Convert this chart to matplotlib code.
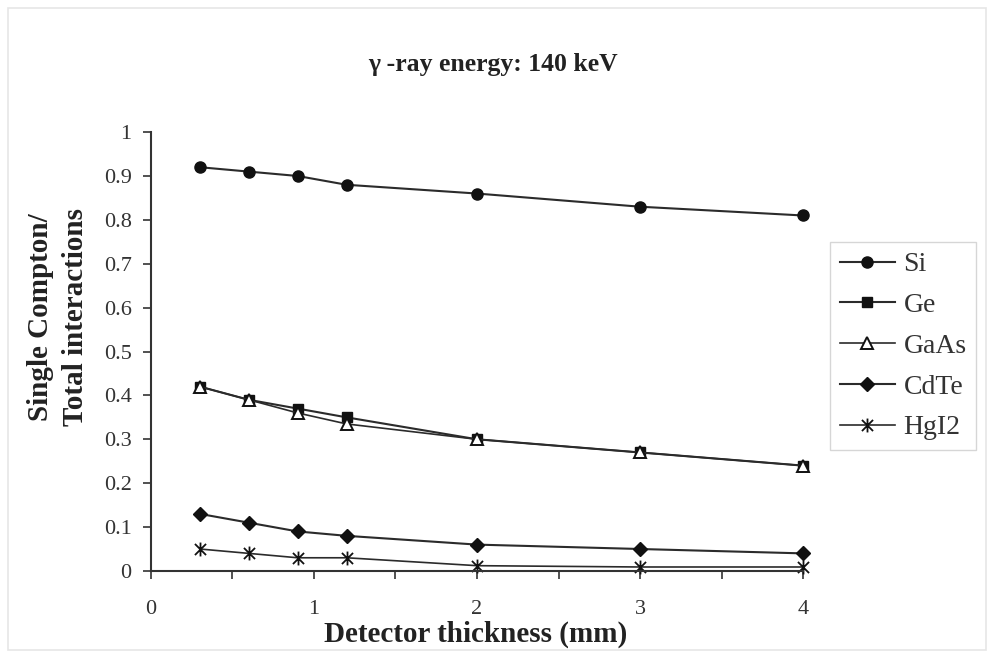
import matplotlib.pyplot as plt
from matplotlib.path import Path
from matplotlib.patches import Rectangle

plt.rcParams['font.family'] = ['Liberation Serif', 'DejaVu Serif']

# detector thickness (mm) and single-Compton fraction per material
thickness = [0.3, 0.6, 0.9, 1.2, 2, 3, 4]
si = [0.92, 0.91, 0.90, 0.88, 0.86, 0.83, 0.81]
ge = [0.42, 0.39, 0.37, 0.35, 0.30, 0.27, 0.24]
gaas = [0.42, 0.39, 0.36, 0.335, 0.30, 0.27, 0.24]
cdte = [0.13, 0.11, 0.09, 0.08, 0.06, 0.05, 0.04]
hgi2 = [0.05, 0.04, 0.03, 0.03, 0.012, 0.009, 0.009]

# star marker: vertical stroke plus an X
star = Path([(0, -1), (0, 1), (-0.8, -0.8), (0.8, 0.8), (-0.8, 0.8), (0.8, -0.8)],
            [Path.MOVETO, Path.LINETO, Path.MOVETO, Path.LINETO, Path.MOVETO, Path.LINETO])

fig = plt.figure(figsize=(9.88, 6.54), dpi=100)
fig.patches.append(Rectangle((0.008, 0.006), 0.99, 0.982, transform=fig.transFigure,
                             fill=False, edgecolor='#e6e6e6', linewidth=1.2))
ax = fig.add_axes([0.1528, 0.127, 0.660, 0.671])

c = '#2b2b2b'
ax.plot(thickness, si, color=c, lw=1.5, marker='o', ms=8, mfc='#111111', mec='#111111', label='Si', clip_on=False)
ax.plot(thickness, ge, color=c, lw=1.5, marker='s', ms=7.5, mfc='#111111', mec='#111111', label='Ge', clip_on=False)
ax.plot(thickness, gaas, color=c, lw=1.2, marker='^', ms=9, mfc='white', mec='#111111', mew=1.4, label='GaAs', clip_on=False)
ax.plot(thickness, cdte, color=c, lw=1.5, marker='D', ms=7.5, mfc='#111111', mec='#111111', label='CdTe', clip_on=False)
ax.plot(thickness, hgi2, color=c, lw=1.2, marker=star, ms=10, mfc='none', mec='#111111', mew=1.3, label='HgI2', clip_on=False)

ax.set_xlim(0, 4)
ax.set_ylim(0, 1)
ax.set_xticks([0, 0.5, 1, 1.5, 2, 2.5, 3, 3.5, 4])
ax.set_xticklabels(['0', '', '1', '', '2', '', '3', '', '4'], fontsize=16)
ax.set_yticks([i / 10 for i in range(11)])
ax.set_yticklabels(['0', '0.1', '0.2', '0.3', '0.4', '0.5', '0.6', '0.7', '0.8', '0.9', '1'], fontsize=16)
ax.tick_params(axis='x', direction='out', length=6, width=1.2, pad=15, colors='#333333', labelcolor='#333333')
ax.tick_params(axis='y', direction='out', length=6, width=1.2, pad=8, colors='#333333', labelcolor='#333333')
for s in ['top', 'right']:
    ax.spines[s].set_visible(False)
for s in ['left', 'bottom']:
    ax.spines[s].set_linewidth(1.5)
    ax.spines[s].set_color('#333333')

# axis titles and chart title
fig.text(0.481, 0.030, 'Detector thickness (mm)', ha='center', va='center',
         fontsize=21, fontweight='bold', color='#222222')
fig.text(0.059, 0.515, 'Single Compton/\nTotal interactions', ha='center', va='center',
         rotation=90, multialignment='center', fontsize=21, fontweight='bold',
         color='#222222', linespacing=1.4)
fig.text(0.499, 0.902, 'γ -ray energy: 140 keV', ha='center', va='center',
         fontsize=18.5, fontweight='bold', color='#222222')

leg = ax.legend(loc='upper left', bbox_to_anchor=(1.041, 0.749), fontsize=20, frameon=True,
                fancybox=False, edgecolor='#cccccc', handlelength=2.0, handletextpad=0.3,
                labelspacing=0.55, borderpad=0.35, borderaxespad=0)
leg.get_frame().set_linewidth(1.0)
for t in leg.get_texts():
    t.set_color('#333333')

fig.savefig('out.png', dpi=100, facecolor='white')
